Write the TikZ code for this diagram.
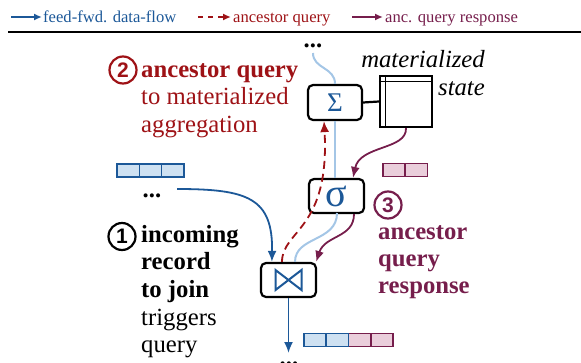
\documentclass[tikz,border=0pt]{standalone}
\usepackage{fontspec}
\setmainfont{LiberationSerif}[
  Extension=.ttf,
  UprightFont=*-Regular,
  BoldFont=*-Bold,
  ItalicFont=*-Italic,
  BoldItalicFont=*-BoldItalic]
\newfontfamily\numfont{Liberation Sans}
\usetikzlibrary{arrows.meta,calc}

\definecolor{fblue}{RGB}{28,88,152}
\definecolor{cellblue}{RGB}{206,225,242}
\definecolor{passblue}{RGB}{164,198,230}
\definecolor{qred}{RGB}{158,18,22}
\definecolor{rpurple}{RGB}{118,30,76}
\definecolor{cellpink}{RGB}{234,206,219}

\tikzset{
  opbox/.style={draw=black, line width=2.2pt, rounded corners=5pt, fill=white,
    minimum width=55pt, minimum height=34pt, inner sep=0pt, text=fblue},
  flow/.style={draw=fblue, line width=1.8pt, -{Latex[length=11pt,width=9pt]}},
  query/.style={draw=qred, line width=1.8pt, dash pattern=on 8pt off 5pt,
    -{Latex[length=11pt,width=9pt]}},
  resp/.style={draw=rpurple, line width=1.8pt, -{Latex[length=11pt,width=9pt]}},
  passthru/.style={draw=passblue, line width=2pt},
  bigtxt/.style={font=\fontsize{24.7}{27.7}\selectfont, inner sep=0pt},
  legtxt/.style={font=\fontsize{16.6}{18}\selectfont, inner sep=0pt, anchor=base west},
  numcirc/.style={circle, draw, line width=2.2pt, minimum size=27pt, inner sep=0pt,
    font=\numfont\bfseries\fontsize{21}{21}\selectfont},
  bcell/.style={draw=fblue, fill=cellblue, line width=1.6pt, minimum width=22.3pt,
    minimum height=13pt, inner sep=0pt},
  pcell/.style={draw=rpurple, fill=cellpink, line width=1.6pt, minimum width=22.3pt,
    minimum height=13pt, inner sep=0pt},
  dots/.style={font=\fontsize{24.7}{27.7}\selectfont\bfseries, inner sep=0pt, anchor=base},
}

\begin{document}
\begin{tikzpicture}[x=1pt,y=-1pt]
\useasboundingbox (0,0) rectangle (581,362);

% legend
\coordinate (lbA) at (11,17);   \coordinate (lbB) at (42,17);
\coordinate (lrA) at (198,17);  \coordinate (lrB) at (231,17);
\coordinate (lpA) at (352,17);  \coordinate (lpB) at (383,17);
\draw[flow, line width=1.6pt, -{Latex[length=8pt,width=7pt]}] (lbA) -- (lbB);
\draw[query, line width=1.6pt, dash pattern=on 5pt off 5pt, -{Latex[length=8pt,width=7pt]}] (lrA) -- (lrB);
\draw[resp, line width=1.6pt, -{Latex[length=8pt,width=7pt]}] (lpA) -- (lpB);
\node[legtxt, text=fblue] (legFlow) at (43,22.5) {feed-fwd. data-flow};
\node[legtxt, text=qred] (legQuery) at (233,22.5) {ancestor query};
\node[legtxt, text=rpurple] (legResp) at (385,22.5) {anc. query response};
\coordinate (ruleL) at (8,32); \coordinate (ruleR) at (581,32);
\draw[line width=2.2pt] (ruleL) -- (ruleR);

% operators
\node[opbox, minimum width=54pt, minimum height=35pt] (sum) at (335,102.5)
  {\fontsize{27}{27}\selectfont Σ};
\node[opbox] (sigma) at (336.5,196) {\fontsize{40}{40}\selectfont σ};
\node[opbox] (join) at (288.5,280) {};
\draw[fblue, line width=2pt, line join=miter]
  ($(join.center)+(-13,-10)$) -- ($(join.center)+(-13,10)$) --
  ($(join.center)+(13,-10)$) -- ($(join.center)+(13,10)$) -- cycle;

% materialized state table
\node[draw, line width=2.2pt, minimum width=52pt, minimum height=51pt, inner sep=0pt]
  (state) at (406,101.5) {};
\draw[line width=1.6pt] ($(state.north west)+(0,6.5)$) -- ($(state.north east)+(0,6.5)$);
\draw[line width=1.6pt] ($(state.north west)+(6.5,0)$) -- ($(state.south west)+(6.5,0)$);
\draw[line width=2.2pt] (sum.east) -- (state.west);
\node[bigtxt, anchor=base east, font=\fontsize{24.7}{28}\selectfont\itshape] (statelbl) at (485,67)
  {\begin{tabular}[t]{@{}r@{}}materialized\\state\end{tabular}};

% records
\node[bcell] (in1) at (128.2,170.5) {};
\node[bcell] (in2) at (150.5,170.5) {};
\node[bcell] (in3) at (172.8,170.5) {};
\node[pcell] (an1) at (394,170) {};
\node[pcell] (an2) at (416.3,170) {};
\node[pcell] (out3) at (359.6,340) {};
\node[pcell] (out4) at (381.9,340) {};
\node[bcell] (out1) at (315.1,340) {};
\node[bcell] (out2) at (337.4,340) {};

% dots
\node[dots] (topdots) at (313,47) {...};
\node[dots] (indots) at (152,197) {...};
\node[dots] (outdots) at (289,365) {...};

% pass-through flow
\coordinate (topsrc) at (313,53);
\draw[passthru] (topsrc) .. controls (313,69) and (335,67) .. (sum.north);
\draw[passthru] (sum.south) -- (sigma.north -| sum.south);
\draw[passthru] (337,213) .. controls (337,242) and (295,236) .. ($(join.north)+(6.5,0)$);

% feed-forward flow
\coordinate (inSrc) at (177,189);
\coordinate (outEnd) at (288.5,353);
\draw[flow] (inSrc) .. controls (248,189) and (273,198) .. ($(join.north west)+(12,0)$);
\draw[flow] (join.south) -- (outEnd);

% ancestor query
\draw[query] ($(join.north)+(-6.5,0)$) .. controls (282,230) and (330,230) .. ($(sum.south)+(-11,0)$);

% query response
\draw[resp] (state.south) .. controls (407,150) and (360,145) .. ($(sigma.north)+(16.5,0)$);
\draw[resp] ($(sigma.south)+(17.5,0)$) .. controls (354,238) and (325,235) .. ($(join.north east)+(-1,0)$);

% annotations
\node[numcirc, draw=qred, text=qred] (n2) at (123,70) {2};
\node[bigtxt, anchor=base west, text=qred] (t2) at (141,77)
  {\begin{tabular}[t]{@{}l@{}}\textbf{ancestor query}\\to materialized\\aggregation\end{tabular}};
\node[numcirc] (n1) at (122,236.5) {1};
\node[bigtxt, anchor=base west] (t1) at (141,242)
  {\begin{tabular}[t]{@{}l@{}}\textbf{incoming}\\\textbf{record}\\\textbf{to join}\\triggers\\query\end{tabular}};
\node[numcirc, draw=rpurple, text=rpurple] (n3) at (388,205) {3};
\node[bigtxt, anchor=base west, text=rpurple, font=\fontsize{24.7}{27.3}\selectfont\bfseries] (t3) at (378,239)
  {\begin{tabular}[t]{@{}l@{}}ancestor\\query\\response\end{tabular}};
\end{tikzpicture}
\end{document}
